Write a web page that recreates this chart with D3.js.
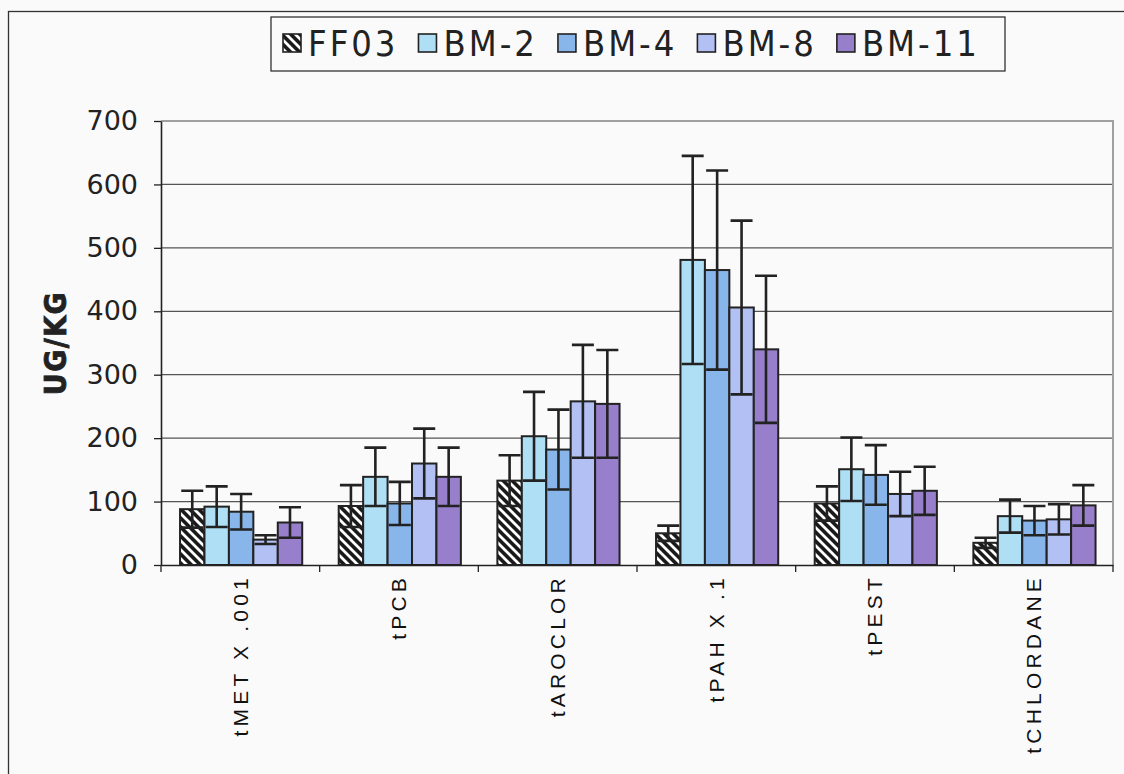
<!DOCTYPE html>
<html>
<head>
<meta charset="utf-8">
<script src="https://cdn.jsdelivr.net/npm/d3@7"></script>
<style>
  html, body { margin: 0; padding: 0; background: #fafafb; }
  svg { display: block; }
</style>
</head>
<body>
<svg id="chart" width="1124" height="774"></svg>
<script>
const categories = ["tMET X .001", "tPCB", "tAROCLOR", "tPAH X .1", "tPEST", "tCHLORDANE"];
const seriesNames = ["FF03", "BM-2", "BM-4", "BM-8", "BM-11"];
const meansFF03 = [88, 93, 133, 50, 97, 35];
const meansBM2  = [92, 139, 203, 481, 151, 77];
const meansBM4  = [84, 97, 182, 465, 142, 70];
const meansBM8  = [40, 160, 258, 406, 112, 72];
const meansBM11 = [67, 139, 254, 340, 117, 94];
const sdFF03 = [29, 33, 40, 12, 27, 8];
const sdBM2  = [32, 46, 70, 164, 50, 26];
const sdBM4  = [28, 34, 63, 157, 47, 23];
const sdBM8  = [7, 55, 89, 137, 35, 24];
const sdBM11 = [24, 46, 85, 116, 38, 32];
const yTicks = [0, 100, 200, 300, 400, 500, 600, 700];
const yLabel = "UG/KG";

const means = [meansFF03, meansBM2, meansBM4, meansBM8, meansBM11];
const sds = [sdFF03, sdBM2, sdBM4, sdBM8, sdBM11];
const fills = ["url(#hatch)", "#aedff4", "#88b6ea", "#b2c0f3", "#987fcb"];

const svg = d3.select("#chart");
const defs = svg.append("defs");
const pat = defs.append("pattern").attr("id", "hatch").attr("patternUnits", "userSpaceOnUse")
  .attr("width", 9).attr("height", 9);
pat.append("rect").attr("width", 9).attr("height", 9).attr("fill", "#1a1a1a");
pat.append("path").attr("d", "M0,0 L9,9 M-3,6 L3,12 M6,-3 L12,3")
  .attr("stroke", "#ffffff").attr("stroke-width", 2.8);

// outer chart border
svg.append("rect").attr("x", 8.5).attr("y", 11.5).attr("width", 1130).attr("height", 800)
  .attr("fill", "none").attr("stroke", "#333").attr("stroke-width", 1.3);

const L = 161, R = 1113, T = 121, B = 565;
const y = d3.scaleLinear().domain([0, 700]).range([B, T]);
const x = d3.scaleBand().domain(categories).range([L, R]).padding(0);
const bw = x.bandwidth();
const inner = d3.scaleBand().domain(seriesNames).range([bw * 0.12, bw * 0.89]).padding(0);

// gridlines
svg.append("g").selectAll("line").data(yTicks.filter(t => t > 0 && t < 700)).join("line")
  .attr("x1", L).attr("x2", R).attr("y1", d => y(d)).attr("y2", d => y(d))
  .attr("stroke", "#555").attr("stroke-width", 1.2);

// plot border (top & right gray)
svg.append("path").attr("d", `M${L},${T}H${R}V${B}`).attr("fill", "none")
  .attr("stroke", "#a0a0a0").attr("stroke-width", 2);

// bars
const data = [];
seriesNames.forEach((s, si) => categories.forEach((c, ci) => {
  data.push({ s, si, c, m: means[si][ci], sd: sds[si][ci] });
}));
svg.append("g").selectAll("rect").data(data).join("rect")
  .attr("x", d => x(d.c) + inner(d.s))
  .attr("y", d => y(d.m))
  .attr("width", inner.bandwidth())
  .attr("height", d => y(0) - y(d.m))
  .attr("fill", d => fills[d.si])
  .attr("stroke", "#222").attr("stroke-width", 2);

// error bars
const eb = svg.append("g").attr("stroke", "#222").attr("stroke-width", 2.6).attr("fill", "none");
const cw = inner.bandwidth() * 0.9;
eb.selectAll("path").data(data).join("path")
  .attr("d", d => {
    const cx = x(d.c) + inner(d.s) + inner.bandwidth() / 2;
    const yt = y(d.m + d.sd), yb = y(Math.max(0, d.m - d.sd));
    return `M${cx},${yb}V${yt}M${cx - cw / 2},${yt}H${cx + cw / 2}M${cx - cw / 2},${yb}H${cx + cw / 2}`;
  });

// y axis
const yAxis = svg.append("g").attr("transform", `translate(${L},0)`)
  .call(d3.axisLeft(y).tickValues(yTicks).tickSize(7).tickPadding(16).tickSizeOuter(0));
yAxis.select(".domain").attr("stroke", "#222").attr("stroke-width", 1.6);
yAxis.selectAll(".tick line").attr("stroke", "#222").attr("stroke-width", 1.3);
yAxis.selectAll("text").attr("font-family", "DejaVu Sans, sans-serif").attr("font-size", 27).attr("fill", "#222");

// x axis
const xAxis = svg.append("g").attr("transform", `translate(0,${B})`)
  .call(d3.axisBottom(x).tickSize(0).tickPadding(0).tickSizeOuter(0));
xAxis.select(".domain").attr("stroke", "#222").attr("stroke-width", 1.6);
xAxis.selectAll(".tick text")
  .attr("font-family", "Liberation Sans, Arial, sans-serif").attr("font-size", 21).attr("fill", "#111")
  .attr("letter-spacing", 4.2)
  .attr("text-anchor", "end").attr("dy", "0.35em")
  .attr("transform", "translate(0,9) rotate(-90)");
// category boundary ticks
svg.append("g").selectAll("line").data(categories.map(c => x(c)).concat([R])).join("line")
  .attr("x1", d => d).attr("x2", d => d).attr("y1", B).attr("y2", B + 7)
  .attr("stroke", "#222").attr("stroke-width", 1.3);

// y label
svg.append("text").attr("transform", `translate(66,${(T + B) / 2}) rotate(-90)`)
  .attr("text-anchor", "middle").attr("font-family", "DejaVu Sans Condensed, DejaVu Sans, sans-serif")
  .attr("font-weight", "bold").attr("font-size", 30).attr("letter-spacing", 1.5)
  .attr("stroke", "#222").attr("stroke-width", 0.8)
  .attr("fill", "#222").text(yLabel);

// legend
const lg = svg.append("g");
lg.append("rect").attr("x", 271).attr("y", 17).attr("width", 734).attr("height", 54)
  .attr("fill", "#fafafb").attr("stroke", "#333").attr("stroke-width", 1.3);
let lx = 283;
seriesNames.forEach((s, i) => {
  lg.append("rect").attr("x", lx).attr("y", 34).attr("width", 18).attr("height", 18)
    .attr("fill", fills[i]).attr("stroke", "#222").attr("stroke-width", 1.6);
  const t = lg.append("text").attr("x", lx + 25).attr("y", 56)
    .attr("font-family", "DejaVu Sans Condensed, DejaVu Sans, sans-serif")
    .attr("font-size", 36).attr("fill", "#222").attr("letter-spacing", 3).text(s);
  lx += 25 + t.node().getComputedTextLength() + 20;
});
</script>
</body>
</html>
